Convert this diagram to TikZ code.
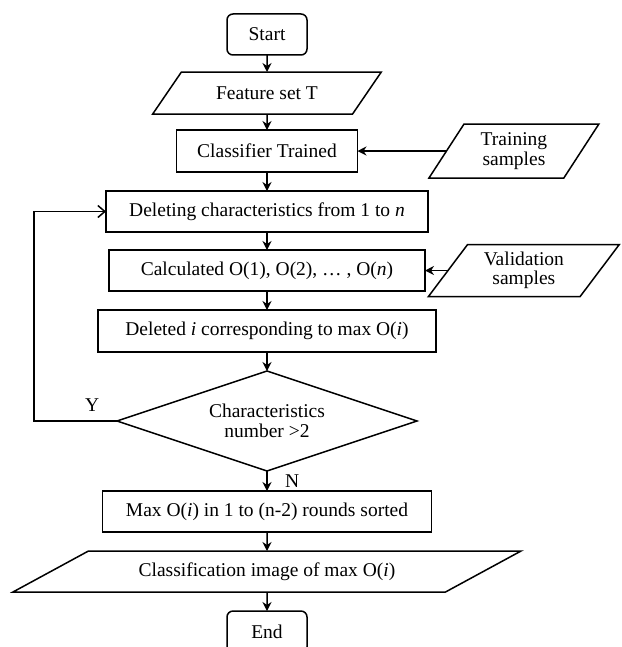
\documentclass[tikz,border=0pt]{standalone}
\usepackage{fontspec}
\setmainfont{Liberation Serif}
\usepackage{tikz}
\usetikzlibrary{positioning,arrows.meta,shapes.geometric}

\begin{document}
\begin{tikzpicture}[
  x=1pt, y=-1pt,
  >={Stealth[length=9pt,width=9pt]},
  line width=1.5pt,
  node distance=19pt,
  font=\fontsize{19.5pt}{19.5pt}\selectfont,
  every node/.style={outer sep=0pt},
  term/.style={draw, rounded corners=6pt, minimum width=80pt, minimum height=41pt, inner sep=2pt},
  proc/.style={draw, minimum height=41pt, inner sep=2pt},
  data/.style={draw, trapezium, trapezium stretches=true, inner sep=2pt, align=center},
  decide/.style={draw, diamond, aspect=3, minimum width=300pt, minimum height=100pt, inner sep=0pt, align=center},
  lbl/.style={inner sep=2pt},
]
\useasboundingbox (0,0) rectangle (621,647);
\node[term] (start) at (267,34.5) {Start};
\node[data, below=17pt of start, minimum width=229pt, minimum height=42pt, trapezium left angle=43.7, trapezium right angle=136.3] (feat) {Feature set T};
\node[proc, below=16pt of feat, minimum width=181pt, minimum height=42pt] (clf) {Classifier Trained};
\node[data, right=89pt of clf, minimum width=170pt, minimum height=54pt, trapezium left angle=58.6, trapezium right angle=121.4] (train) {Training\\samples};
\node[proc, below=19pt of clf, minimum width=322pt] (del) {Deleting characteristics from 1 to \textit{n}};
\node[proc, below=18pt of del, minimum width=316pt] (calc) {Calculated O(1), O(2), … , O(\textit{n})};
\node[data, right=23pt of calc, minimum width=191pt, minimum height=52pt, trapezium left angle=54.6, trapezium right angle=125.4] (valid) {Validation\\samples};
\node[proc, below=19pt of calc, minimum width=338pt, minimum height=42pt] (deli) {Deleted \textit{i} corresponding to max O(\textit{i})};
\node[decide, below=19pt of deli] (cond) {Characteristics\\number >2};
\node[proc, below=20pt of cond, minimum width=329pt] (maxo) {Max O(\textit{i}) in 1 to (n-2) rounds sorted};
\node[data, below=19pt of maxo, minimum width=510pt, minimum height=41pt, trapezium left angle=21.7, trapezium right angle=158.3] (cls) {Classification image of max O(\textit{i})};
\node[term, below=19pt of cls, minimum height=42pt] (fin) {End};
\coordinate (loop) at ([xshift=-83pt]cond.west);
\draw[->] (start) -- (feat);
\draw[->] (feat) -- (clf);
\draw[->] (train.west) -- (clf.east);
\draw[->] (clf) -- (del);
\draw[->] (del) -- (calc);
\draw[->] (valid.west) -- (calc.east);
\draw[->] (calc) -- (deli);
\draw[->] (deli) -- (cond);
\draw[->] (cond) -- node[lbl, right=16pt] {N} (maxo);
\draw[-{Straight Barb[length=7pt,width=12pt]}] (cond.west) -- node[lbl, above=8pt, pos=0.3] {Y} (loop) |- (del.west);
\draw[->] (maxo) -- (cls);
\draw[->] (cls) -- (fin);
\end{tikzpicture}
\end{document}
